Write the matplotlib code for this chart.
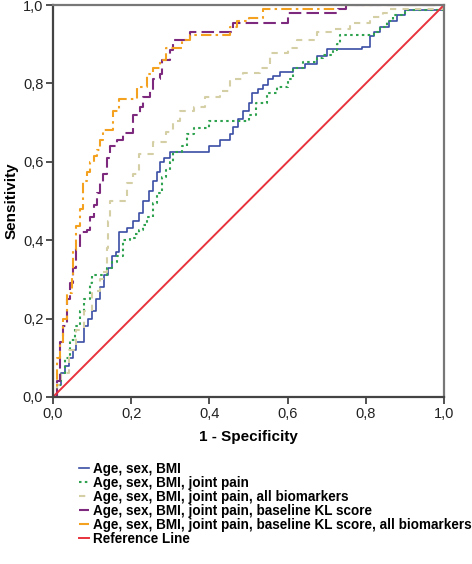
import matplotlib
matplotlib.use("Agg")
import matplotlib.pyplot as plt

plt.rcParams['font.family'] = ['Liberation Sans', 'DejaVu Sans']

labels = ["Age, sex, BMI",
          "Age, sex, BMI, joint pain",
          "Age, sex, BMI, joint pain, all biomarkers",
          "Age, sex, BMI, joint pain, baseline KL score",
          "Age, sex, BMI, joint pain, baseline KL score, all biomarkers",
          "Reference Line"]

fpr_blue = [0, 0.01, 0.02, 0.03, 0.04, 0.05, 0.06, 0.08, 0.09, 0.10, 0.11, 0.12, 0.13, 0.14, 0.15, 0.16, 0.17, 0.19,
            0.205, 0.22, 0.23, 0.245, 0.256, 0.265, 0.274, 0.285, 0.30, 0.376, 0.40, 0.427, 0.453, 0.46, 0.472,
            0.486, 0.50, 0.51, 0.523, 0.537, 0.55, 0.563, 0.58,
            0.614, 0.644, 0.675, 0.70, 0.79, 0.81, 0.82, 0.836, 0.86, 0.88, 0.90, 1.0]
tpr_blue = [0, 0.03, 0.06, 0.08, 0.10, 0.12, 0.14, 0.18, 0.20, 0.22, 0.25, 0.28, 0.31, 0.33, 0.36, 0.37, 0.42, 0.43,
            0.45, 0.47, 0.50, 0.525, 0.55, 0.575, 0.60, 0.61, 0.625, 0.625, 0.64, 0.655, 0.67, 0.69, 0.71,
            0.73, 0.75, 0.775, 0.785, 0.795, 0.81, 0.82, 0.83,
            0.84, 0.85, 0.87, 0.887, 0.893, 0.92, 0.93, 0.944, 0.96, 0.975, 0.987, 1.0]

fpr_green = [0, 0.01, 0.02, 0.03, 0.043, 0.055, 0.07, 0.08, 0.095, 0.10, 0.12, 0.138, 0.15, 0.163, 0.18, 0.197,
             0.21, 0.22, 0.23, 0.24, 0.256, 0.265, 0.28, 0.29,
             0.30, 0.307, 0.33, 0.343, 0.36, 0.39, 0.40, 0.48, 0.50, 0.52, 0.547, 0.573, 0.60, 0.614, 0.64,
             0.675, 0.69, 0.716, 0.726, 0.734, 0.80, 0.82, 0.836, 0.854, 0.87, 0.90, 1.0]
tpr_green = [0, 0.03, 0.06, 0.10, 0.145, 0.18, 0.22, 0.25, 0.29, 0.31, 0.31, 0.33, 0.345, 0.36, 0.40, 0.405,
             0.415, 0.425, 0.44, 0.46, 0.495, 0.52, 0.56, 0.58,
             0.60, 0.625, 0.64, 0.67, 0.685, 0.685, 0.705, 0.705, 0.72, 0.75, 0.775, 0.79, 0.81, 0.84, 0.855,
             0.865, 0.872, 0.885, 0.90, 0.923, 0.923, 0.93, 0.945, 0.96, 0.975, 0.987, 1.0]

fpr_beige = [0, 0.01, 0.02, 0.04, 0.06, 0.08, 0.10, 0.12, 0.128, 0.138, 0.14, 0.146, 0.18, 0.19, 0.205, 0.22,
             0.256, 0.29, 0.307, 0.325, 0.36, 0.39, 0.427, 0.453, 0.486, 0.53, 0.555, 0.60, 0.624, 0.675,
             0.716, 0.76, 0.81, 0.845, 0.86, 1.0]
tpr_beige = [0, 0.03, 0.06, 0.12, 0.17, 0.22, 0.27, 0.30, 0.32, 0.38, 0.45, 0.50, 0.50, 0.545, 0.57, 0.62,
             0.65, 0.675, 0.705, 0.73, 0.74, 0.765, 0.78, 0.81, 0.826, 0.84, 0.877, 0.89, 0.91, 0.93,
             0.94, 0.955, 0.97, 0.98, 0.99, 1.0]

fpr_purple = [0, 0.01, 0.018, 0.026, 0.036, 0.043, 0.05, 0.06, 0.07, 0.087, 0.095, 0.104, 0.113, 0.12, 0.128,
              0.137, 0.146, 0.164, 0.18,
              0.197, 0.205, 0.222, 0.23, 0.248, 0.256, 0.274, 0.28, 0.30, 0.307, 0.343, 0.35, 0.46, 0.46,
              0.60, 0.60, 0.73, 0.73, 0.75, 0.75, 1.0]
tpr_purple = [0, 0.04, 0.14, 0.18, 0.25, 0.29, 0.33, 0.38, 0.42, 0.426, 0.46, 0.49, 0.52, 0.545, 0.57,
              0.61, 0.64, 0.655, 0.673,
              0.673, 0.72, 0.74, 0.765, 0.78, 0.81, 0.825, 0.86, 0.885, 0.91, 0.91, 0.93, 0.93, 0.955,
              0.955, 0.98, 0.98, 0.99, 0.99, 1.0, 1.0]

fpr_orange = [0, 0.0, 0.01, 0.018, 0.026, 0.036, 0.048, 0.05, 0.06, 0.07, 0.077, 0.086, 0.095, 0.104, 0.113,
              0.12, 0.128, 0.146,
              0.154, 0.17, 0.205, 0.215, 0.23, 0.24, 0.256, 0.274, 0.29, 0.325, 0.33, 0.35, 0.445, 0.453,
              0.47, 0.50, 0.537, 0.537, 0.72, 0.72, 1.0]
tpr_orange = [0, 0.025, 0.10, 0.14, 0.20, 0.265, 0.31, 0.375, 0.435, 0.48, 0.55, 0.575, 0.60, 0.615, 0.63,
              0.655, 0.68, 0.68,
              0.73, 0.76, 0.76, 0.79, 0.79, 0.825, 0.84, 0.86, 0.89, 0.89, 0.91, 0.923, 0.923, 0.944,
              0.96, 0.967, 0.967, 0.99, 0.99, 1.0, 1.0]

ref_x = [0, 1]
ref_y = [0, 1]

ticks = [0.0, 0.2, 0.4, 0.6, 0.8, 1.0]
tick_labels = ["0,0", "0,2", "0,4", "0,6", "0,8", "1,0"]

fig = plt.figure(figsize=(4.72, 5.64), dpi=100)
ax = fig.add_axes([0.1123, 0.2961, 0.8284, 0.6950])

lw = 1.2
ds = 'steps-post'
ax.plot(fpr_blue, tpr_blue, color="#3a4ea6", lw=lw, drawstyle=ds, label=labels[0])
ax.plot(fpr_green, tpr_green, color="#2fa24f", lw=lw + 0.3, linestyle=(0, (1.2, 1.6)), drawstyle=ds,
        label=labels[1])
ax.plot(fpr_beige, tpr_beige, color="#d5cfa6", lw=lw + 0.3, linestyle=(0, (3, 3)), drawstyle=ds,
        label=labels[2])
ax.plot(fpr_purple, tpr_purple, color="#7d2a7e", lw=lw + 0.3, linestyle=(0, (6, 2.5)), drawstyle=ds,
        label=labels[3])
ax.plot(fpr_orange, tpr_orange, color="#f3a11f", lw=lw + 0.3, linestyle=(0, (5, 2, 1.2, 2)), drawstyle=ds,
        label=labels[4])
ax.plot(ref_x, ref_y, color="#e8323c", lw=1.4, label=labels[5])

ax.set_xlim(0, 1)
ax.set_ylim(0, 1)
ax.set_xticks(ticks)
ax.set_xticklabels(tick_labels)
ax.set_yticks(ticks)
ax.set_yticklabels(tick_labels)
ax.tick_params(direction='out', length=5, width=1.2, colors="#333333", labelsize=10.5,
               labelcolor="#222222", pad=2)
for s in ax.spines.values():
    s.set_color("#777777")
    s.set_linewidth(1.6)
ax.spines['left'].set_color("#444444")
ax.spines['bottom'].set_color("#444444")

ax.set_xlabel("1 - Specificity", fontsize=11, fontweight='bold', labelpad=7)
ax.set_ylabel("Sensitivity", fontsize=11, fontweight='bold', labelpad=3)

fig.legend(loc='upper left', bbox_to_anchor=(0.168, 0.181), frameon=False,
           prop={'weight': 'bold', 'size': 9.75}, handlelength=0.7, handletextpad=0.3,
           labelspacing=0.0, borderpad=0, borderaxespad=0)

fig.savefig("out.png", dpi=100)
